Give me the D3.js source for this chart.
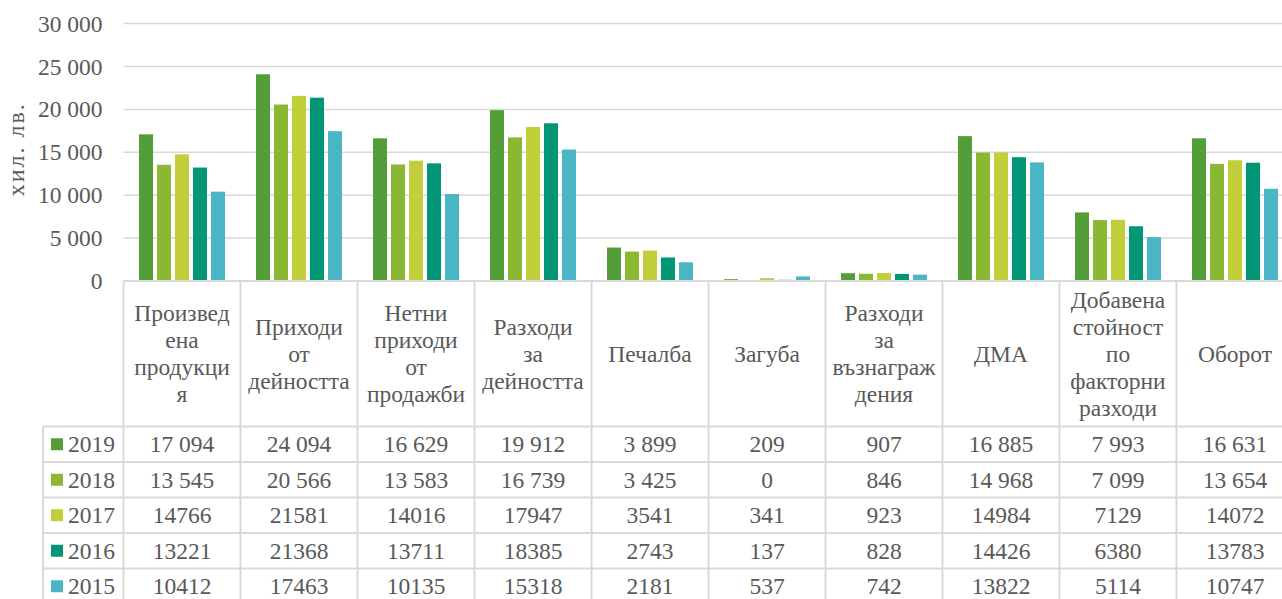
<!DOCTYPE html>
<html>
<head>
<meta charset="utf-8">
<script src="https://cdn.jsdelivr.net/npm/d3@7"></script>
<style>
  body { margin: 0; background: #fff; overflow: hidden; }
</style>
</head>
<body>
<div id="chart"></div>
<script>
// categories as wrapped in the data table header
const categories = [
  'Произвед\nена\nпродукци\nя',
  'Приходи\nот\nдейността',
  'Нетни\nприходи\nот\nпродажби',
  'Разходи\nза\nдейността',
  'Печалба',
  'Загуба',
  'Разходи\nза\nвъзнаграж\nдения',
  'ДМА',
  'Добавена\nстойност\nпо\nфакторни\nразходи',
  'Оборот',
];
const years = ['2019', '2018', '2017', '2016', '2015'];
const v2019 = [17094, 24094, 16629, 19912, 3899, 209, 907, 16885, 7993, 16631];
const v2018 = [13545, 20566, 13583, 16739, 3425, 0, 846, 14968, 7099, 13654];
const v2017 = [14766, 21581, 14016, 17947, 3541, 341, 923, 14984, 7129, 14072];
const v2016 = [13221, 21368, 13711, 18385, 2743, 137, 828, 14426, 6380, 13783];
const v2015 = [10412, 17463, 10135, 15318, 2181, 537, 742, 13822, 5114, 10747];
const spacedYears = ['2019', '2018']; // these rows show a thousands separator
const yTicks = [0, 5000, 10000, 15000, 20000, 25000, 30000];
const yTitle = 'хил. лв.';

const series = [v2019, v2018, v2017, v2016, v2015];
const colors = ['#549E39', '#8AB833', '#C0CF3A', '#029676', '#4AB5C4'];

const W = 1282, H = 599;
const plot = { left: 123.5, right: 1293.5, top: 23.6, bottom: 281 };
const headerBottom = 426.5, rowH = 35.5, legendLeft = 43;
const grid = '#d9d9d9';
const FONT = "'Liberation Serif', 'Times New Roman', serif";
const FS = '23.5px';

const locale = d3.formatLocale({ decimal: ',', thousands: '\u00a0', grouping: [3], currency: ['', ''] });
const fmtSpaced = locale.format(',d');
const fmtPlain = d3.format('d');

const svg = d3.select('#chart').append('svg')
  .attr('width', W).attr('height', H)
  .style('font-family', FONT);

const x0 = d3.scaleBand().domain(d3.range(categories.length))
  .range([plot.left, plot.right]);
const groupW = 86;
const x1 = d3.scaleBand().domain(d3.range(years.length))
  .range([(x0.bandwidth() - groupW) / 2, (x0.bandwidth() + groupW) / 2])
  .paddingInner(0.22);
const y = d3.scaleLinear().domain([0, 30000]).range([plot.bottom, plot.top]);

// gridlines
svg.append('g')
  .selectAll('line')
  .data(yTicks)
  .join('line')
  .attr('x1', plot.left).attr('x2', W)
  .attr('y1', (d) => y(d)).attr('y2', (d) => y(d))
  .attr('stroke', grid).attr('stroke-width', 1.5);

// y axis labels
const yAxis = svg.append('g')
  .attr('transform', `translate(${plot.left - 21}, 0)`)
  .call(d3.axisLeft(y).tickValues(yTicks).tickSize(0).tickPadding(0)
    .tickFormat((d) => fmtSpaced(d)));
yAxis.attr('font-family', null).attr('font-size', null);
yAxis.select('.domain').remove();
yAxis.selectAll('text')
  .style('font-family', FONT)
  .style('font-size', FS)
  .attr('fill', '#595959');

svg.append('text')
  .attr('transform', `translate(23.5, ${(plot.top + plot.bottom) / 2 - 3}) rotate(-90)`)
  .attr('text-anchor', 'middle')
  .style('font-family', FONT)
  .style('font-size', '24px')
  .style('letter-spacing', '2px')
  .attr('fill', '#595959')
  .text(yTitle);

// bars
const groups = svg.append('g')
  .selectAll('g')
  .data(categories)
  .join('g')
  .attr('transform', (d, i) => `translate(${x0(i)}, 0)`);

groups.selectAll('rect')
  .data((d, i) => series.map((s, k) => ({ k, value: s[i] })))
  .join('rect')
  .attr('x', (d) => x1(d.k))
  .attr('width', x1.bandwidth())
  .attr('y', (d) => y(d.value))
  .attr('height', (d) => plot.bottom - y(d.value))
  .attr('fill', (d) => colors[d.k]);

// data table
const table = svg.append('g');
const tableBottom = headerBottom + rowH * years.length;

table.append('line')
  .attr('x1', plot.left).attr('x2', W)
  .attr('y1', plot.bottom).attr('y2', plot.bottom)
  .attr('stroke', grid).attr('stroke-width', 2);
table.selectAll('.hline')
  .data(d3.range(years.length + 1))
  .join('line')
  .attr('class', 'hline')
  .attr('x1', legendLeft).attr('x2', W)
  .attr('y1', (d) => headerBottom + d * rowH)
  .attr('y2', (d) => headerBottom + d * rowH)
  .attr('stroke', grid).attr('stroke-width', 2);

table.selectAll('.vline')
  .data(d3.range(categories.length + 1))
  .join('line')
  .attr('class', 'vline')
  .attr('x1', (d) => plot.left + d * x0.step())
  .attr('x2', (d) => plot.left + d * x0.step())
  .attr('y1', plot.bottom).attr('y2', tableBottom)
  .attr('stroke', grid).attr('stroke-width', 2);
table.append('line')
  .attr('x1', legendLeft).attr('x2', legendLeft)
  .attr('y1', headerBottom).attr('y2', tableBottom)
  .attr('stroke', grid).attr('stroke-width', 2);

// header labels
const lineH = 27;
table.selectAll('.head')
  .data(categories)
  .join('text')
  .attr('class', 'head')
  .attr('text-anchor', 'middle')
  .style('font-family', FONT)
  .style('font-size', FS)
  .attr('fill', '#595959')
  .each(function (d, i) {
    const lines = d.split('\n');
    const cy = (plot.bottom + headerBottom) / 2;
    const cx = x0(i) + x0.bandwidth() / 2;
    d3.select(this).selectAll('tspan')
      .data(lines)
      .join('tspan')
      .attr('x', cx)
      .attr('y', (l, j) => cy + (j - (lines.length - 1) / 2) * lineH)
      .attr('dy', '0.35em')
      .text((l) => l);
  });

// rows
years.forEach((yr, k) => {
  const cy = headerBottom + k * rowH + rowH / 2;
  const fmt = spacedYears.includes(yr) ? fmtSpaced : fmtPlain;
  table.append('rect')
    .attr('x', legendLeft + 8).attr('y', cy - 6)
    .attr('width', 12).attr('height', 12)
    .attr('fill', colors[k]);
  table.append('text')
    .attr('x', legendLeft + 25).attr('y', cy)
    .attr('dy', '0.35em')
    .style('font-family', FONT)
    .style('font-size', FS)
    .attr('fill', '#595959')
    .text(yr);
  table.selectAll(`.val-${yr}`)
    .data(series[k])
    .join('text')
    .attr('class', `val-${yr}`)
    .attr('x', (d, i) => x0(i) + x0.bandwidth() / 2)
    .attr('y', cy)
    .attr('dy', '0.35em')
    .attr('text-anchor', 'middle')
    .style('font-family', FONT)
    .style('font-size', FS)
    .attr('fill', '#595959')
    .text((d) => fmt(d));
});
</script>
</body>
</html>
